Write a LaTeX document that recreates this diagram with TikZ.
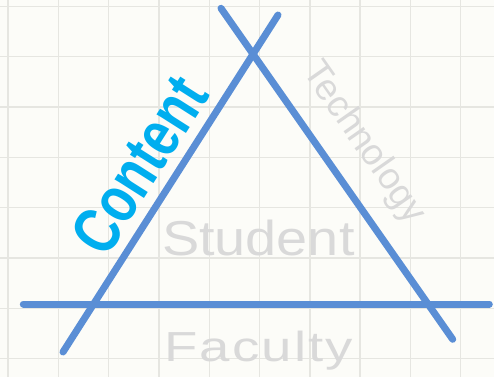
\documentclass[tikz,border=0pt]{standalone}
\usepackage{fontspec}
\setmainfont{Liberation Sans}
\newfontfamily\facfont[LetterSpace=4]{Liberation Sans}
\definecolor{bgc}{HTML}{FCFCF8}
\definecolor{gridc}{HTML}{E6E6E1}
\definecolor{linec}{HTML}{5A8ED5}
\definecolor{cyanc}{HTML}{00AEEF}
\definecolor{grayt}{HTML}{D9D9D9}
\tikzset{
  mainline/.style={draw=linec, line width=7pt, line cap=round},
  gridline/.style={draw=gridc, line width=1.4pt},
  lbl/.style={inner sep=0pt, outer sep=0pt},
}
\begin{document}
\begin{tikzpicture}[x=1pt, y=-1pt]
\fill[bgc] (0,0) rectangle (494,377);
\useasboundingbox (0,0) rectangle (494,377);
\foreach \k in {0,...,9} {
  \draw[gridline] ({8+50.3*\k},0) -- ({8+50.3*\k},377);
}
\foreach \k in {0,...,7} {
  \draw[gridline] (0,{6.5+50.3*\k}) -- (494,{6.5+50.3*\k});
}
% texts
\begin{scope}[shift={(162,255)}, xscale=1.14]
  \node[lbl, transform shape, anchor=base west, text=grayt, font=\fontsize{49}{49}\selectfont] (student) at (0,0) {Student};
\end{scope}
\begin{scope}[shift={(164,361.7)}, xscale=1.3]
  \node[lbl, transform shape, anchor=base west, text=grayt, font=\facfont\fontsize{42}{42}\selectfont] (faculty) at (0,0) {Faculty};
\end{scope}
\node[lbl, anchor=base west, rotate=57.5, xscale=0.78, text=cyanc, font=\bfseries\fontsize{66}{66}\selectfont] (content) at (106,259) {Content};
\node[lbl, anchor=base west, rotate=-55, text=grayt, font=\fontsize{37}{37}\selectfont] (tech) at (302,72) {Technology};
% lines
\coordinate (l1a) at (63,352);
\coordinate (l1b) at (278,15);
\coordinate (l2a) at (221,8.3);
\coordinate (l2b) at (452.7,339.3);
\coordinate (l3a) at (23.3,304);
\coordinate (l3b) at (489.3,304);
\draw[mainline] (l1a) -- (l1b);
\draw[mainline] (l2a) -- (l2b);
\draw[mainline] (l3a) -- (l3b);
\end{tikzpicture}
\end{document}
